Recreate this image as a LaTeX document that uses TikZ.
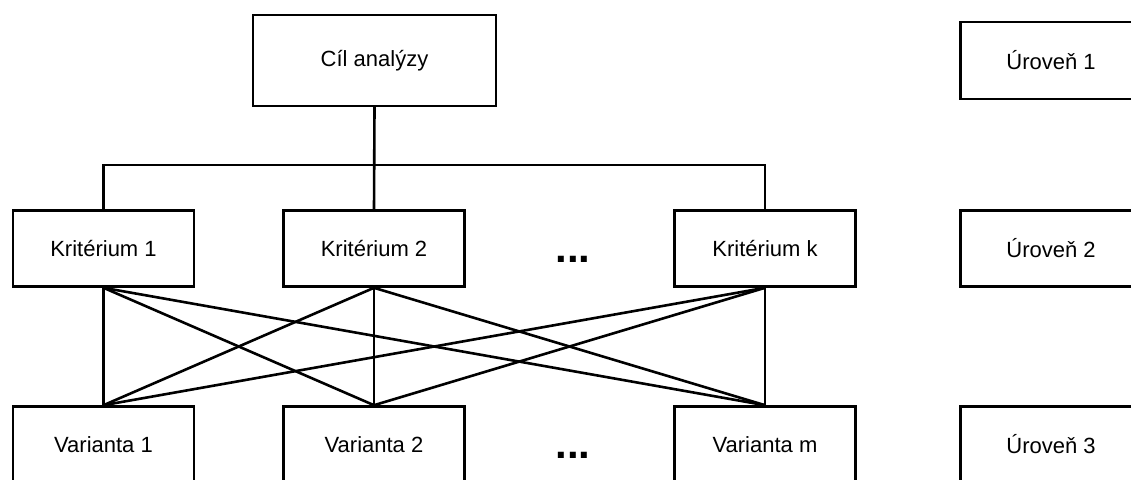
\documentclass[tikz,border=0pt]{standalone}
\usepackage{fontspec}
\setmainfont{Liberation Sans}
\begin{document}
\begin{tikzpicture}[x=1pt,y=-1pt,
  box/.style={draw=black,line width=2.6pt,fill=white,inner sep=0pt,minimum width=181pt,minimum height=76pt,font=\fontsize{22}{24}\selectfont},
  link/.style={line width=2.6pt,line cap=rect},
  dots/.style={font=\fontsize{42}{44}\selectfont\bfseries,inner sep=0pt,anchor=base}]
\useasboundingbox (0,0) rectangle (1131,479);
\clip (0,0) rectangle (1131,479);
% level 1
\node[box,minimum width=243pt,minimum height=91pt] (cil) at (374.5,60.5) {Cíl analýzy};
% level 2
\node[box] (k1) at (103.5,248.5) {Kritérium 1};
\node[box] (k2) at (374,248.5) {Kritérium 2};
\node[box] (kk) at (765,248.5) {Kritérium k};
% level 3
\node[box] (v1) at (103.5,444.5) {Varianta 1};
\node[box] (v2) at (374,444.5) {Varianta 2};
\node[box] (vm) at (765,444.5) {Varianta m};
% levels
\node[box,minimum height=77pt] (u1) at (1051,60.5) {Úroveň 1};
\node[box] (u2) at (1051,248.5) {Úroveň 2};
\node[box] (u3) at (1051,444.5) {Úroveň 3};
% dots
\node[dots] (d1) at (573,262) {...};
\node[dots] (d2) at (573,458) {...};
% tree
\coordinate (bar) at (374,165);
\draw[link] (cil.south) -- (k2.north);
\draw[link] (k1.north) |- (bar) -| (kk.north);
% cross connections
\foreach \k in {k1,k2,kk}{
  \foreach \v in {v1,v2,vm}{
    \draw[link,line cap=butt] (\k.south) -- (\v.north);
  }
}
\end{tikzpicture}
\end{document}
